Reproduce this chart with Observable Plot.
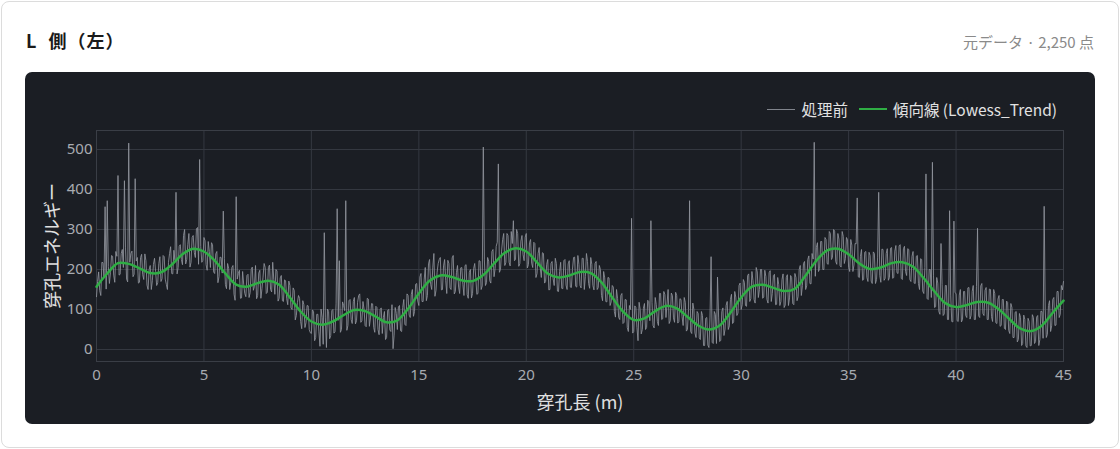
<!DOCTYPE html>
<html>
<head>
<meta charset="utf-8">
<script src="https://cdn.jsdelivr.net/npm/d3@7"></script>
<script src="https://cdn.jsdelivr.net/npm/@observablehq/plot@0.6"></script>
<style>
  html, body { margin: 0; padding: 0; background: #ffffff; width: 1120px; height: 449px; overflow: hidden; }
  body { font-family: "Noto Sans", "Noto Sans CJK JP", sans-serif; position: relative; }
  #card { position: absolute; left: 1px; top: 1px; width: 1116px; height: 445px; border: 1px solid #dcdcdc; border-radius: 8px; background: #fff; }
  #title { position: absolute; left: 26px; top: 27px; font-size: 18px; font-weight: 700; color: #1a1a1a; font-family: "Noto Sans CJK JP", sans-serif; word-spacing: 6px; letter-spacing: 1px; }
  #sub { position: absolute; right: 26px; top: 31px; font-size: 15px; color: #8a8a8a; font-family: "Noto Sans CJK JP", sans-serif; }
  #panel { position: absolute; left: 25px; top: 72px; width: 1070px; height: 352px; background: #1b1e24; border-radius: 7px; overflow: hidden; }
  #legend { position: absolute; right: 38px; top: 26px; display: flex; align-items: center; font-size: 15.5px; color: #e2e2e2; font-family: "Noto Sans CJK JP", sans-serif; }
  #legend .sw { display: inline-block; width: 28px; height: 0; margin-right: 6px; }
  #legend .item { display: flex; align-items: center; margin-left: 11px; }
  #chart { position: absolute; left: 0; top: 48px; }
</style>
</head>
<body>
<div id="card"></div>
<div id="title">L 側（左）</div>
<div id="sub">元データ · 2,250 点</div>
<div id="panel">
  <div id="legend">
    <div class="item"><span class="sw" style="border-top:1.5px solid #80848c"></span>処理前</div>
    <div class="item"><span class="sw" style="border-top:2.5px solid #2fae44"></span>傾向線 (Lowess_Trend)</div>
  </div>
  <div id="chart"></div>
</div>
<script>
// Raw drilling energy read at 0.0, 0.1, 0.2 ... 45.0 m
const rawStep = 0.1;
const rawValues = [
  132,194,135,217,357,372,165,235,186,245,
  435,188,250,422,176,516,240,182,427,230,
  168,238,175,222,150,210,172,228,160,215,
  170,235,176,150,240,190,248,393,205,262,
  212,300,225,290,218,285,230,305,475,218,
  280,212,270,205,262,190,245,182,230,346,
  162,215,150,205,138,382,190,128,195,140,
  185,130,200,148,210,135,198,152,215,140,
  205,150,218,138,196,128,185,120,172,112,
  160,100,148,85,135,70,122,55,110,50,
  40,95,30,88,8,80,292,5,95,35,
  100,45,352,222,50,110,372,60,125,65,
  130,72,135,68,120,60,128,58,115,55,
  108,50,100,40,95,30,100,45,2,105,
  50,110,45,125,60,135,80,150,95,165,
  110,190,120,205,135,225,150,240,148,215,
  230,150,225,140,215,150,235,145,210,140,
  205,135,212,128,200,140,215,138,222,150,
  506,160,230,172,245,182,258,464,200,275,
  210,290,218,295,322,225,290,215,285,222,
  290,212,275,205,265,190,255,180,240,170,
  225,150,220,160,215,145,218,152,225,150,
  222,155,230,158,235,160,228,150,240,165,
  230,160,215,150,210,135,195,120,180,110,
  160,95,150,80,135,65,125,55,110,328,
  45,105,22,100,50,115,55,120,322,60,
  130,70,140,75,145,80,150,72,135,68,
  135,70,125,60,118,50,372,40,100,30,
  90,25,85,10,80,5,232,15,88,181,
  20,95,35,110,50,125,65,145,85,160,
  100,175,110,185,120,195,125,205,130,200,
  128,198,125,192,120,185,112,180,110,175,
  105,180,110,185,115,190,122,200,135,215,
  150,225,165,240,518,255,195,270,200,280,
  215,295,225,300,220,290,210,295,215,280,
  205,275,195,265,379,180,250,175,245,170,
  235,165,240,175,393,168,250,178,252,180,
  255,180,260,190,262,175,258,185,250,170,
  245,165,235,150,225,140,439,125,200,468,
  105,180,95,265,85,160,75,347,70,321,
  140,70,150,75,145,80,155,85,160,75,
  303,80,165,85,155,75,150,70,140,65,
  135,60,125,50,118,40,105,30,95,25,
  80,15,75,5,70,10,80,20,85,25,
  95,358,30,110,45,125,60,145,80,160,
  170
];
// Raw drilling energy read at 0.05, 0.15, 0.25 ... 44.95 m
const rawMidOffset = 0.05;
const rawMidValues = [
  170,147,218,180,151,207,192,233,168,233,
  186,240,205,254,169,218,246,188,221,166,
  230,187,239,161,200,150,213,195,167,232,
  177,232,163,218,257,189,224,189,258,225,
  285,214,263,206,280,243,302,213,257,223,
  272,198,245,267,194,239,167,231,191,228,
  152,203,168,210,123,176,198,129,163,132,
  188,142,206,158,127,191,128,181,205,143,
  211,144,175,200,121,179,122,174,127,171,
  104,154,74,117,128,52,112,67,109,42,
  99,22,88,44,101,13,79,101,27,97,
  41,114,73,43,119,97,48,122,75,120,
  64,118,139,72,101,57,126,79,114,43,
  105,37,104,80,25,98,49,112,36,90,
  106,47,105,63,139,86,138,83,163,121,
  181,120,176,122,214,163,206,133,193,225,
  149,209,173,223,154,229,139,192,156,204,
  163,210,137,193,129,202,180,140,221,159,
  224,167,221,166,250,202,268,193,246,290,
  218,285,209,265,222,300,208,271,237,281,
  204,267,216,268,180,240,204,242,166,213,
  149,215,177,228,146,195,153,222,161,214,
  156,200,231,156,213,154,228,183,220,153,
  213,149,220,155,200,122,179,119,179,119,
  156,81,127,75,140,68,124,45,100,41,
  109,55,118,39,103,50,123,72,118,54,
  112,60,140,77,137,113,65,141,79,143,
  66,127,82,130,46,100,45,116,41,95,
  29,95,10,78,11,81,18,95,15,81,
  23,104,51,120,59,138,69,131,91,166,
  112,168,108,189,127,172,116,194,150,200,
  131,182,116,197,140,188,113,162,120,189,
  111,187,129,180,112,180,132,210,160,220,
  159,234,164,226,183,267,202,270,200,275,
  213,290,230,296,213,276,206,283,227,274,
  195,261,211,264,182,233,173,243,180,243,
  171,244,165,229,185,251,173,240,173,253,
  178,246,192,259,178,252,195,252,175,233,
  166,233,165,227,146,205,128,200,130,184,
  107,166,88,163,89,160,75,136,69,142,
  72,136,69,145,85,154,76,145,75,158,
  84,159,90,148,75,151,82,150,67,126,
  58,125,53,121,48,115,30,93,19,90,
  10,86,9,78,9,87,15,81,10,96,
  28,100,38,122,59,130,61,145,88,149
];
// Lowess trend read every 0.5 m
const trendStep = 0.5;
const trendValues = [
  157,190,216,214,203,191,193,212,238,252,
  245,222,190,162,157,166,172,162,130,95,
  70,62,70,86,99,96,82,68,73,102,
  140,172,185,182,173,171,186,215,242,253,
  245,218,190,180,185,194,191,168,130,95,
  74,78,96,109,103,82,60,50,60,92,
  130,157,162,154,146,152,185,222,248,252,
  238,215,201,205,216,218,207,178,145,116,
  106,111,119,117,100,75,52,46,60,92,
  122
];
const xTicks = [0,5,10,15,20,25,30,35,40,45];
const yTicks = [0,100,200,300,400,500];

const raw = rawValues.map((v, i) => ({x: i * rawStep, y: v}))
  .concat(rawMidValues.map((v, i) => ({x: i * rawStep + rawMidOffset, y: v})))
  .sort((a, b) => a.x - b.x);
const trend = trendValues.map((v, i) => ({x: i * trendStep, y: v}));

const grid = "#343840";
const chart = Plot.plot({
  width: 1070,
  height: 300,
  marginLeft: 71,
  marginRight: 32,
  marginTop: 10,
  marginBottom: 59,
  style: {background: "transparent", color: "#a8abb1", fontSize: "15px", fontFamily: "'Noto Sans', 'Noto Sans CJK JP', sans-serif"},
  x: {domain: [0, 45]},
  y: {domain: [-30, 547.5]},
  marks: [
    Plot.gridX(xTicks, {stroke: grid, strokeOpacity: 1}),
    Plot.gridY(yTicks, {stroke: grid, strokeOpacity: 1}),
    Plot.frame({stroke: "#3a3e46"}),
    Plot.line(raw, {x: "x", y: "y", stroke: "#90949c", strokeWidth: 1, strokeOpacity: 0.85}),
    Plot.line(trend, {x: "x", y: "y", stroke: "#2fae44", strokeWidth: 2.5, curve: "catmull-rom"}),
    Plot.axisX(xTicks, {tickSize: 0, tickPadding: 8, label: "穿孔長 (m)", labelAnchor: "center", labelArrow: "none", labelOffset: 47, fill: "#a8abb1"}),
    Plot.axisY(yTicks, {tickSize: 0, tickPadding: 4, label: "穿孔エネルギー", labelAnchor: "center", labelArrow: "none", labelOffset: 50, fill: "#a8abb1"})
  ]
});
document.getElementById("chart").appendChild(chart);
chart.querySelectorAll("[aria-label='x-axis label'] text, [aria-label='y-axis label'] text").forEach(t => {
  t.setAttribute("fill", "#e0e0e0");
  t.style.fontSize = "18px";
  t.style.fontFamily = "'Noto Sans CJK JP', sans-serif";
});
</script>
</body>
</html>
